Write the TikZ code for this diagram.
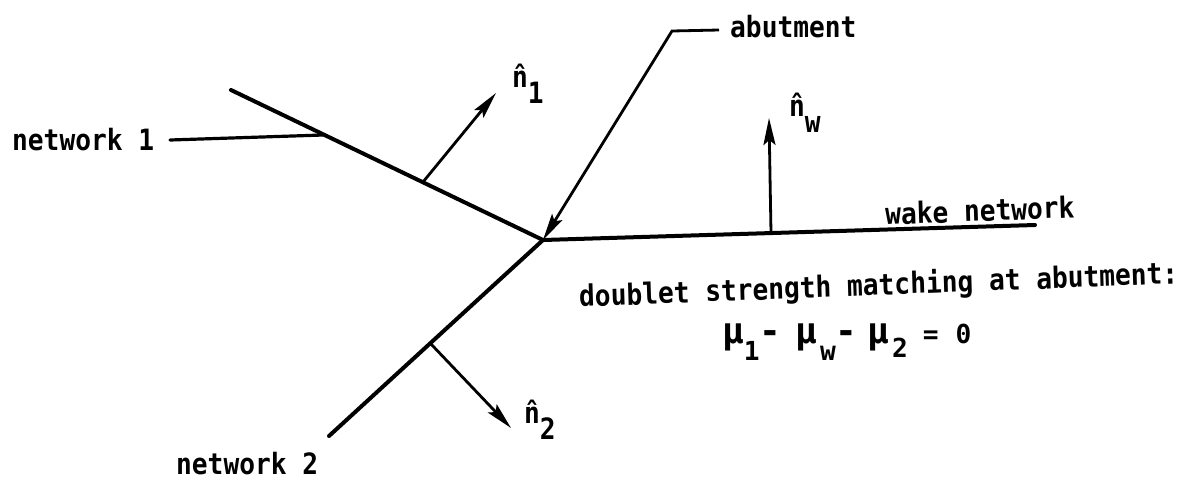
\documentclass[tikz,border=0pt]{standalone}
\usepackage{fontspec}
\setmonofont{DejaVu Sans Mono}
\usetikzlibrary{arrows.meta,positioning}
\newcommand{\lblsize}{\fontsize{26.2}{28}\selectfont}

\begin{document}
\begin{tikzpicture}[x=1pt,y=-1pt,
  sheet/.style={line width=4pt,line cap=round},
  lead/.style={line width=3.2pt,line cap=round},
  arr/.style={-{Stealth[length=27pt,width=12pt,inset=5pt]},line width=2.8pt},
  lbl/.style={font=\lblsize\ttfamily\bfseries,inner sep=0pt,yscale=1.12},
  eqn/.style={font=\fontsize{36}{38}\selectfont\ttfamily\bfseries,inner sep=0pt},
]
\useasboundingbox (0,0) rectangle (1190,483);

% Junction of the networks
\coordinate (J) at (543,240);

% Free ends of the networks
\coordinate (E1) at (231,90);
\coordinate (E2) at (329,436);
\coordinate (EW) at (1035,225);

% Feet and tips of the normals
\coordinate (F1) at (423,182);
\coordinate (T1) at (496,93);
\coordinate (F2) at (430,343);
\coordinate (T2) at (511,428);
\coordinate (FW) at (771,233);
\coordinate (TW) at (769,118);

% Leader points
\coordinate (L1) at (323,135);
\coordinate (L2) at (170,140);
\coordinate (LA) at (672,31);
\coordinate (LB) at (719,30);

% Labels
\node[lbl,anchor=west] (net1) at (12,140) {network 1};
\node[lbl,anchor=west] (net2) at (176,464) {network 2};
\node[lbl,anchor=west] (abut) at (730,27) {abutment};
\node[lbl,anchor=west,rotate=2] (wake) at (885,214) {wake network};
\node[lbl,anchor=west,rotate=2] (match) at (579,298) {doublet strength matching at abutment:};
\node[eqn,anchor=base west] (eqn) at (722,343) {μ\raisebox{-17pt}{\lblsize 1}-\hspace{14pt}μ\hspace{3pt}\raisebox{-17pt}{\lblsize w}-\hspace{10pt}μ\hspace{3pt}\raisebox{-14pt}{\lblsize 2}\hspace{15pt}{\lblsize =\hspace{17pt}0}};
\node[lbl,anchor=west] (n1) at (512,84) {\^n\raisebox{-14pt}{1}};
\node[lbl,anchor=west] (n2) at (524,420) {\^n\raisebox{-14pt}{2}};
\node[lbl,anchor=west] (nw) at (789,113) {\^n\raisebox{-14pt}{w}};

% Networks
\draw[sheet] (E1) -- (J);
\draw[sheet] (E2) -- (J);
\draw[sheet] (J) -- (EW);

% Normals
\draw[arr] (F1) -- (T1);
\draw[arr] (F2) -- (T2);
\draw[arr] (FW) -- (TW);

% Leaders
\draw[lead] (L2) -- (L1);
\draw[arr,line join=miter] (LB) -- (LA) -- (J);

\end{tikzpicture}
\end{document}
